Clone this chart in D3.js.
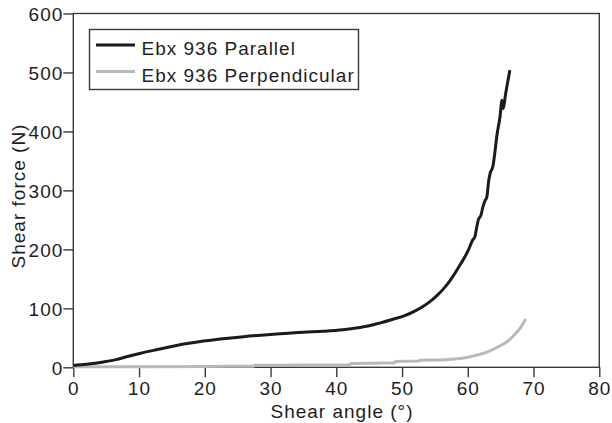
<!DOCTYPE html>
<html>
<head>
<meta charset="utf-8">
<script src="https://cdn.jsdelivr.net/npm/d3@7"></script>
<style>
  html, body { margin: 0; padding: 0; background: #fff; }
  svg { display: block; }
  text { font-family: "Liberation Sans", Arial, Helvetica, sans-serif; fill: #1e1e1e; }
</style>
</head>
<body>
<svg id="chart" width="612" height="423"></svg>
<script>
// Shear angle (deg) / shear force (N) readings for the two fabric orientations
const parallelAngle = [0, 2, 4.6, 6.5, 8.1, 10.1, 13, 15.7, 19.8, 25.9, 30.9, 35, 38, 41, 43, 45, 46.6, 48.5, 50.5, 51.7, 53, 54.2, 55.3, 56.3, 57.3, 58.9, 60.1, 60.7, 61.1, 61.2, 61.6, 62, 62.3, 62.6, 62.9, 63.2, 63.4, 63.8, 63.9, 64.2, 64.4, 64.9, 65.2, 65.25, 65.4, 65.7, 66.4];
const parallelForce = [3, 5, 9, 13, 18, 23.5, 30.5, 37, 44.5, 52, 56.5, 59.5, 61, 63.5, 66.5, 70.5, 75, 81, 88, 94, 102, 111, 121.5, 133, 147, 175, 199, 215, 222, 228, 250, 258, 272, 282, 289, 318, 329, 340, 346, 372, 391, 425, 453, 440, 439, 460, 504];

const perpAngle = [0, 10, 20, 27.4, 27.6, 35, 42, 42.2, 46, 48.8, 49, 52.5, 52.7, 56, 58, 60, 61.5, 63, 64.5, 65.9, 67, 68, 68.8];
const perpForce = [1, 1, 1.5, 1.8, 3.5, 3.8, 4, 6.5, 7, 7.5, 10, 10.5, 12, 12.5, 14, 17, 21, 26, 34, 43, 54, 67, 82];

const xTicks = [0, 10, 20, 30, 40, 50, 60, 70, 80];
const yTicks = [0, 100, 200, 300, 400, 500, 600];

const seriesNames = ["Ebx 936 Parallel", "Ebx 936 Perpendicular"];
const seriesColors = ["#1b1b1b", "#b9b9bc"];

const xTitle = "Shear angle (°)";
const yTitle = "Shear force (N)";

const svg = d3.select("#chart");
const plot = { left: 73.3, right: 599.3, top: 13.5, bottom: 367.3 };

const x = d3.scaleLinear().domain([0, 80]).range([plot.left, plot.right]);
const y = d3.scaleLinear().domain([0, 600]).range([plot.bottom, plot.top]);

const axisColor = "#3a3a3a";
const fontSize = 19;

// axes
const gx = svg.append("g")
  .attr("transform", `translate(0,${plot.bottom})`)
  .call(d3.axisBottom(x).tickValues(xTicks).tickFormat(d3.format("d")).tickSize(10).tickSizeOuter(0).tickPadding(4));
const gy = svg.append("g")
  .attr("transform", `translate(${plot.left},0)`)
  .call(d3.axisLeft(y).tickValues(yTicks).tickFormat(d3.format("d")).tickSize(10).tickSizeOuter(0).tickPadding(0));

[gx, gy].forEach(g => {
  g.select(".domain").remove();
  g.selectAll(".tick line").attr("stroke", axisColor).attr("stroke-width", 1.4);
  g.selectAll(".tick text")
    .attr("font-family", "Liberation Sans, Arial, sans-serif")
    .attr("font-size", fontSize)
    .attr("letter-spacing", "1px")
    .attr("fill", "#1e1e1e");
});
gy.selectAll(".tick text").attr("dy", "0.36em");

// plot frame
svg.append("rect")
  .attr("x", plot.left).attr("y", plot.top)
  .attr("width", plot.right - plot.left).attr("height", plot.bottom - plot.top)
  .attr("fill", "none").attr("stroke", axisColor).attr("stroke-width", 1.4);

// curves
const line = d3.line()
  .x(d => x(d[0]))
  .y(d => y(d[1]))
  .curve(d3.curveMonotoneX);

const perpData = perpAngle.map((a, i) => [a, perpForce[i]]);
const parData = parallelAngle.map((a, i) => [a, parallelForce[i]]);

svg.append("path").datum(perpData)
  .attr("d", line).attr("fill", "none")
  .attr("stroke", seriesColors[1]).attr("stroke-width", 3)
  .attr("stroke-linejoin", "round");
svg.append("path").datum(parData)
  .attr("d", line).attr("fill", "none")
  .attr("stroke", seriesColors[0]).attr("stroke-width", 3)
  .attr("stroke-linejoin", "round");

// axis titles
svg.append("text")
  .attr("x", 342).attr("y", 418)
  .attr("text-anchor", "middle")
  .attr("font-size", fontSize).attr("letter-spacing", "1px")
  .text(xTitle);
svg.append("text")
  .attr("transform", "translate(25,196) rotate(-90)")
  .attr("text-anchor", "middle")
  .attr("font-size", fontSize).attr("letter-spacing", "1px")
  .text(yTitle);

// legend
const legend = svg.append("g");
legend.append("rect")
  .attr("x", 89.5).attr("y", 29.5).attr("width", 269).attr("height", 60)
  .attr("fill", "#fff").attr("stroke", axisColor).attr("stroke-width", 1.4);
const rowY = [45, 71.5];
seriesNames.forEach((name, i) => {
  legend.append("line")
    .attr("x1", 96).attr("x2", 135)
    .attr("y1", rowY[i]).attr("y2", rowY[i])
    .attr("stroke", seriesColors[i]).attr("stroke-width", 3);
  legend.append("text")
    .attr("x", 141.5).attr("y", rowY[i] + 10)
    .attr("font-size", fontSize).attr("letter-spacing", "1px")
    .text(name);
});
</script>
</body>
</html>
